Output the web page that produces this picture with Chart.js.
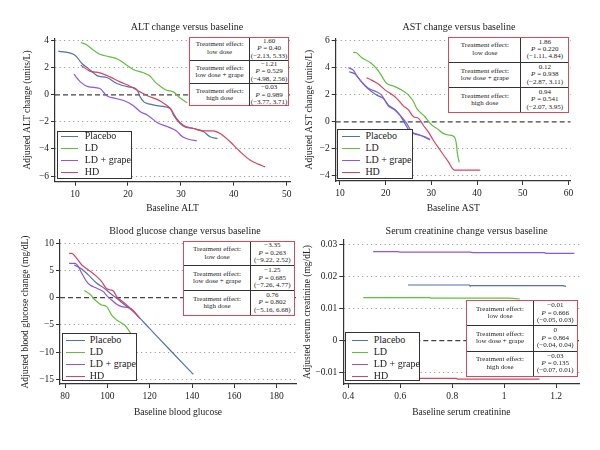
<!DOCTYPE html>
<html>
<head>
<meta charset="utf-8">
<script src="https://cdn.jsdelivr.net/npm/chart.js@4"></script>
<style>
body{margin:0;background:#fff;}
#wrap{position:relative;width:600px;height:450px;overflow:hidden;font-family:"Liberation Serif","DejaVu Serif",serif;color:#222;}
canvas{position:absolute;}
.ttl{position:absolute;font-size:10px;white-space:nowrap;transform:translate(-50%,-50%);}
.leg{position:absolute;background:#fff;border:1.3px solid #333;box-sizing:border-box;font-size:10px;}
.leg div{position:absolute;left:0;height:12px;line-height:12px;white-space:nowrap;}
.leg i{position:absolute;top:6px;height:0;border-top:1.5px solid;}
.leg span{position:absolute;top:0;}
.tab{position:absolute;background:#fff;border:1.3px solid #d64b5c;box-sizing:border-box;font-size:7px;line-height:7.4px;display:flex;flex-direction:column;}
.tab .row{flex:1;display:flex;}
.tab .row+.row{border-top:1px solid #333;}
.tab .c{display:flex;flex-direction:column;justify-content:center;align-items:center;text-align:center;white-space:nowrap;}
.tab .c1{border-right:1px solid #333;}
.tab .c2{flex:1;}
</style>
</head>
<body>
<div id="wrap"></div>
<script>
// series names + colours
var names = ['Placebo', 'LD', 'LD + grape', 'HD'];
var colors = ['#4f72b0', '#62bf3e', '#8c55e6', '#d8445e'];
var effectLabels = ['low dose', 'low dose + grape', 'high dose'];

// ALT
var altTicksX = [10, 20, 30, 40, 50];
var altTicksY = [-6, -4, -2, 0, 2, 4];
var altPlacebo = [[6.85,3.23],[10,2.93],[11.3,2.32],[12.5,1.95],[14.4,1.38],[16,1.28],[17.9,0.84],[20.1,0.59],[21.7,0.39],[22.3,-0.15],[23,-0.52],[24.2,-0.69],[26.1,-0.84],[28,-1.01],[28.6,-1.5],[30.5,-2.32],[32.4,-2.49],[34.3,-2.73],[35.5,-3.1],[36.9,-3.23]];
var altLD = [[11.1,3.87],[12.1,3.72],[13.5,3.3],[14.7,3.0],[16.6,2.81],[18.2,2.61],[19.8,2.19],[21,1.87],[22.9,1.63],[24.2,1.38],[25.1,0.96],[26.1,0.64],[27.3,0.34],[28.6,0.22],[29.8,-0.22],[31.2,-0.59]];
var altGrape = [[9.8,1.53],[11,0.96],[12.6,0.59],[14.7,0.47],[16,-0.07],[17.7,-0.27],[19.3,-0.44],[20.9,-0.76],[22.4,-1.26],[23.7,-1.5],[25.6,-2.07],[27.5,-2.36],[29.1,-2.66],[30.3,-3.1],[31.6,-3.3],[33,-3.4]];
var altHD = [[11.1,2.19],[12.8,1.75],[14.7,1.63],[16.6,1.33],[18.5,0.96],[20.4,0.64],[22.3,0.22],[23.9,-0.1],[25.8,-0.39],[26.8,-0.64],[28,-1.01],[29.2,-1.75],[30.5,-2.27],[32.4,-2.49],[34.3,-2.66],[36.1,-2.66],[37.4,-2.86],[39.3,-3.47],[41.2,-4.21],[43.1,-4.83],[44.6,-5.12],[45.9,-5.32]];
var altTable = [['1.60','0.40','(\u22122.13, 5.33)'],['\u22121.21','0.529','(\u22124.98, 2.56)'],['\u22120.03','0.989','(\u22123.77, 3.71)']];

// AST
var astTicksX = [10, 20, 30, 40, 50, 60];
var astTicksY = [-4, -2, 0, 2, 4, 6];
var astPlacebo = [[12,3.71],[13.3,3.53],[14.4,3.09],[15.8,2.55],[18,1.98],[19.5,1.74],[20.6,1.24],[22,0.92],[23.1,0.51],[24.2,-0.11],[25.3,-0.72],[27.2,-0.97],[28.6,-1.1],[29.7,-1.29]];
var astLD = [[12.9,5.14],[13.6,5.11],[14.7,4.76],[16.9,4.32],[18.4,3.78],[20.2,2.85],[21.7,2.65],[23.5,2.35],[25,1.98],[26.1,1.49],[26.8,1.0],[28.6,0.38],[30.1,-0.23],[31.2,-0.48],[32.6,-0.85],[33.7,-0.97],[35,-1.1],[35.4,-1.47],[35.7,-2.33],[36.1,-2.99]];
var astGrape = [[11.8,4.0],[12.9,3.83],[13.6,3.46],[14.7,2.97],[16.2,2.48],[18,2.23],[19.1,1.98],[20.6,1.17],[22,0.88],[23.1,0.51],[24.6,-0.11],[25.7,-0.72],[27.5,-0.97],[29.7,-1.34]];
var astHD = [[15.8,3.26],[16.9,3.09],[18.4,2.8],[19.9,2.35],[21,2.11],[22.4,1.74],[23.9,1.17],[25,0.88],[26.1,0.38],[27.2,0.26],[28.2,-0.23],[29.3,-0.72],[30.4,-1.34],[31.9,-2.08],[33.7,-2.94],[35,-3.56],[36.3,-3.56],[40.7,-3.56]];
var astTable = [['1.86','0.220','(\u22121.11, 4.84)'],['0.12','0.938','(\u22122.87, 3.11)'],['0.94','0.541','(\u22122.07, 3.95)']];

// blood glucose
var gluTicksX = [80, 100, 120, 140, 160, 180];
var gluTicksY = [-15, -10, -5, 0, 5, 10];
var gluPlacebo = [[84.3,6.0],[87.9,5.28],[91,4.18],[95,2.65],[98.1,1.85],[101.3,0.81],[104.4,-0.11],[108.3,-1.34],[112.3,-2.56],[120,-5.7],[130,-9.8],[140.6,-14.1]];
var gluLD = [[89.1,1.3],[91.8,0.62],[94.2,-0.42],[97.3,-1.34],[99.7,-1.64],[102,-3.2],[104.4,-4.1],[106.8,-4.7],[108.3,-5.1],[109.9,-5.9],[111,-6.55],[113,-7.6]];
var gluGrape = [[81.9,6.32],[84.7,6.32],[86.3,5.71],[87.9,4.49],[90.2,2.95],[91.8,2.34],[95,1.73],[98.1,1.12],[99.7,0.38],[102,-0.42],[104.4,-1.21],[106.8,-1.64],[109.9,-1.83],[112.3,-2.4],[114.6,-3.5]];
var gluHD = [[81.9,8.16],[83.1,8.16],[85.5,7.24],[87.9,6.0],[91,5.1],[95,3.87],[97.3,2.95],[99.4,1.73],[101.3,1.42],[102.8,1.24],[104.4,0.2],[106.8,-0.6],[109.1,-1.34],[112.3,-2.5],[115.4,-3.85]];
var gluTable = [['\u22123.35','0.263','(\u22129.22, 2.52)'],['\u22121.25','0.685','(\u22127.26, 4.77)'],['0.76','0.802','(\u22125.16, 6.68)']];

// serum creatinine
var crTicksX = [0.4, 0.6, 0.8, 1, 1.2];
var crTicksY = [-0.01, 0, 0.01, 0.02, 0.03];
var crPlacebo = [[0.63,0.01732],[0.866,0.01732],[0.868,0.0171],[1.225,0.0171],[1.238,0.0169]];
var crLD = [[0.458,0.01338],[0.714,0.01338],[0.716,0.0132],[1.02,0.0132],[1.06,0.01296]];
var crGrape = [[0.496,0.0277],[0.59,0.0277],[0.6,0.02755],[0.87,0.02755],[0.88,0.0274],[1.155,0.0274],[1.16,0.0272],[1.27,0.0272]];
var crHD = [[0.47,-0.0118],[0.816,-0.0118],[0.82,-0.012],[1.136,-0.012]];
var crTable = [['\u22120.01','0.666','(\u22120.05, 0.03)'],['0','0.864','(\u22120.04, 0.04)'],['\u22120.03','0.135','(\u22120.07, 0.01)']];

var F = '"Liberation Serif", "DejaVu Serif", serif';
var wrap = document.getElementById('wrap');

function fmt(v) {
    return v < 0 ? '\u2212' + Math.abs(v) : String(v);
}

var panels = [
    {left: 0, top: 0, title: 'ALT change versus baseline', tx: 187, ty: 26,
     xTitle: 'Baseline ALT', yTitle: 'Adjusted ALT change (units/L)',
     series: [altPlacebo, altLD, altGrape, altHD], xTicks: altTicksX, yTicks: altTicksY,
     xMin: 6.22, xMax: 50.6, yMin: -6.42, yMax: 4.18, smooth: true,
     area: {l: 55, r: 290, t: 38.3, b: 181.7}, yPad: 21.3, xPad: 11.3,
     leg: {l: 56.7, t: 130.7, w: 75.6, h: 48.3, first: 6, l1: 5, l2: 21.6, tx: 28.3},
     tab: {vals: altTable, l: 189.3, t: 36.7, w: 100, h: 69, c1: 60}},
    {left: 300, top: 0, title: 'AST change versus baseline', tx: 459, ty: 26,
     xTitle: 'Baseline AST', yTitle: 'Adjusted AST change (units/L)',
     series: [astPlacebo, astLD, astGrape, astHD], xTicks: astTicksX, yTicks: astTicksY,
     xMin: 9.06, xMax: 60.5, yMin: -4.37, yMax: 6.18, smooth: true,
     area: {l: 35.7, r: 270.7, t: 38.3, b: 181}, yPad: 3.3, xPad: 11.3,
     leg: {l: 336.7, t: 129.3, w: 76.6, h: 49.7, first: 6.7, l1: 6, l2: 23.3, tx: 29},
     tab: {vals: astTable, l: 448.3, t: 36.7, w: 121, h: 76.6, c1: 72.4}},
    {left: 0, top: 225, title: 'Blood glucose change versus baseline', tx: 185, ty: 230,
     xTitle: 'Baseline blood glucose', yTitle: 'Adjusted blood glucose change (mg/dL)',
     series: [gluPlacebo, gluLD, gluGrape, gluHD], xTicks: gluTicksX, yTicks: gluTicksY,
     xMin: 77.6, xMax: 189.1, yMin: -15.86, yMax: 10.6, smooth: true,
     area: {l: 60, r: 296, t: 15, b: 159}, yPad: 19.3, xPad: 32.3,
     leg: {l: 62.3, t: 333.3, w: 75, h: 47.7, first: 7.4, l1: 4.4, l2: 22.7, tx: 27.7},
     tab: {vals: gluTable, l: 183.3, t: 240.7, w: 111.7, h: 75.3, c1: 66.7}},
    {left: 300, top: 225, title: 'Serum creatinine change versus baseline', tx: 466.7, ty: 230,
     xTitle: 'Baseline serum creatinine', yTitle: 'Adjusted serum creatinine (mg/dL)',
     series: [crPlacebo, crLD, crGrape, crHD], xTicks: crTicksX, yTicks: crTicksY,
     xMin: 0.381, xMax: 1.289, yMin: -0.01353, yMax: 0.03134, smooth: false,
     area: {l: 43.3, r: 279.3, t: 15, b: 159}, yPad: 1.6, xPad: 32.3,
     leg: {l: 345, t: 332.3, w: 75, h: 48.4, first: 7.7, l1: 7.3, l2: 23.3, tx: 29},
     tab: {vals: crTable, l: 466, t: 300.3, w: 111.7, h: 76.4, c1: 67.3}}
];

function makeChart(p) {
    var cv = document.createElement('canvas');
    cv.width = 300; cv.height = 225;
    cv.style.left = p.left + 'px';
    cv.style.top = p.top + 'px';
    wrap.appendChild(cv);

    var datasets = p.series.map(function(s, i) {
        return {
            label: names[i],
            data: s.map(function(d) { return {x: d[0], y: d[1]}; }),
            borderColor: colors[i],
            borderWidth: 1.2,
            pointRadius: 0,
            tension: p.smooth ? 0.35 : 0,
            cubicInterpolationMode: p.smooth ? 'monotone' : 'default',
            order: 3 - i
        };
    });
    // dashed zero line across the axis range
    datasets.push({
        label: 'zero',
        data: [{x: p.xMin, y: 0}, {x: p.xMax, y: 0}],
        borderColor: '#444', borderWidth: 1.3, borderDash: [5, 3],
        pointRadius: 0, order: 10
    });

    var tickFont = {family: F, size: 9.5};
    new Chart(cv, {
        type: 'line',
        data: {datasets: datasets},
        options: {
            responsive: false,
            animation: false,
            devicePixelRatio: 1,
            layout: {padding: {left: 0, bottom: 0, top: p.area.t, right: 300 - p.area.r}},
            plugins: {legend: {display: false}, tooltip: {enabled: false}},
            scales: {
                x: {
                    type: 'linear', min: p.xMin, max: p.xMax,
                    afterBuildTicks: function(s) { s.ticks = p.xTicks.map(function(v) { return {value: v}; }); },
                    afterFit: function(s) { s.height = 225 - p.area.b; },
                    grid: {drawOnChartArea: false, tickLength: 4, tickColor: '#333', tickWidth: 1},
                    border: {color: '#333', width: 1.2},
                    ticks: {color: '#222', font: tickFont, padding: 3, maxRotation: 0, autoSkip: false, callback: fmt},
                    title: {display: true, text: p.xTitle, color: '#222', font: tickFont, padding: {top: 0, bottom: p.xPad}}
                },
                y: {
                    type: 'linear', min: p.yMin, max: p.yMax,
                    afterBuildTicks: function(s) { s.ticks = p.yTicks.map(function(v) { return {value: v}; }); },
                    afterFit: function(s) { s.width = p.area.l; },
                    grid: {
                        color: function(c) { return c.tick && c.tick.value === 0 ? 'rgba(0,0,0,0)' : '#8a8a8a'; },
                        lineWidth: 1, tickLength: 4, tickColor: '#333', tickWidth: 1
                    },
                    border: {color: '#333', width: 1.2, dash: [1, 3.5]},
                    ticks: {color: '#222', font: tickFont, padding: 2, autoSkip: false, callback: fmt},
                    title: {display: true, text: p.yTitle, color: '#222', font: tickFont, padding: {top: p.yPad, bottom: 0}}
                }
            }
        }
    });

    // title
    var t = document.createElement('div');
    t.className = 'ttl';
    t.style.left = p.tx + 'px';
    t.style.top = p.ty + 'px';
    t.textContent = p.title;
    wrap.appendChild(t);

    // legend box
    var lg = document.createElement('div');
    lg.className = 'leg';
    lg.style.left = p.leg.l + 'px'; lg.style.top = p.leg.t + 'px';
    lg.style.width = p.leg.w + 'px'; lg.style.height = p.leg.h + 'px';
    var html = '';
    names.forEach(function(n, i) {
        var y = p.leg.first + i * 12 - 6 - 1.3;
        html += '<div style="top:' + y + 'px;width:100%">' +
            '<i style="left:' + (p.leg.l1 - 1.3) + 'px;width:' + (p.leg.l2 - p.leg.l1) + 'px;border-color:' + colors[i] + '"></i>' +
            '<span style="left:' + (p.leg.tx - 1.3) + 'px">' + n + '</span></div>';
    });
    lg.innerHTML = html;
    wrap.appendChild(lg);

    // treatment effect table
    var tb = document.createElement('div');
    tb.className = 'tab';
    tb.style.left = p.tab.l + 'px'; tb.style.top = p.tab.t + 'px';
    tb.style.width = p.tab.w + 'px'; tb.style.height = p.tab.h + 'px';
    var th = '';
    p.tab.vals.forEach(function(v, i) {
        th += '<div class="row"><div class="c c1" style="width:' + (p.tab.c1 - 1.3) + 'px">' +
            '<span>Treatment effect:</span><span>' + effectLabels[i] + '</span></div>' +
            '<div class="c c2"><span>' + v[0] + '</span><span><i>P</i> = ' + v[1] + '</span><span>' + v[2] + '</span></div></div>';
    });
    tb.innerHTML = th;
    wrap.appendChild(tb);
}

panels.forEach(makeChart);
</script>
</body>
</html>
